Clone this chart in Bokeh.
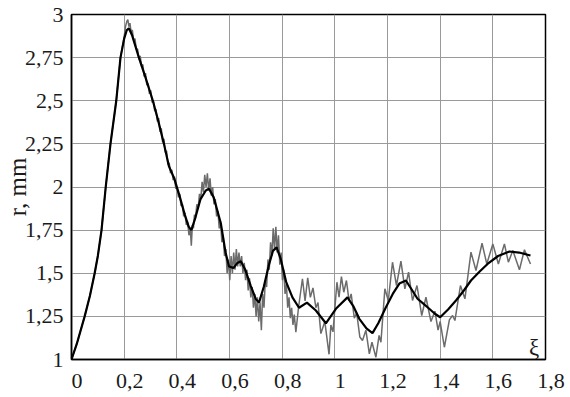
from bokeh.plotting import figure
from bokeh.models import Range1d, FixedTicker, Label
from bokeh.embed import file_html
from bokeh.resources import INLINE

# ---- data ----
x_ticks = [0, 0.2, 0.4, 0.6, 0.8, 1.0, 1.2, 1.4, 1.6, 1.8]
x_tick_labels = ["0", "0,2", "0,4", "0,6", "0,8", "1", "1,2", "1,4", "1,6", "1,8"]
y_ticks = [1, 1.25, 1.5, 1.75, 2, 2.25, 2.5, 2.75, 3]
y_tick_labels = ["1", "1,25", "1,5", "1,75", "2", "2,25", "2,5", "2,75", "3"]

# smooth (black) curve
smooth_xi = [0, 0.02, 0.05, 0.07, 0.088, 0.1, 0.114, 0.13, 0.148, 0.17, 0.186, 0.2, 0.21,
             0.218, 0.23, 0.256, 0.28, 0.309, 0.33, 0.351, 0.37, 0.39, 0.41, 0.43, 0.445,
             0.455, 0.47, 0.49, 0.51, 0.522, 0.54, 0.567, 0.585, 0.598, 0.615, 0.63, 0.643,
             0.66, 0.68, 0.70, 0.712, 0.73, 0.75, 0.765, 0.779, 0.795, 0.815, 0.839, 0.864,
             0.894, 0.928, 0.966, 1.004, 1.048, 1.07, 1.093, 1.12, 1.143, 1.165, 1.194,
             1.22, 1.245, 1.27, 1.29, 1.314, 1.335, 1.352, 1.38, 1.40, 1.43, 1.46, 1.49,
             1.517, 1.55, 1.58, 1.62, 1.663, 1.70, 1.743]
smooth_r = [1.0, 1.09, 1.25, 1.37, 1.5, 1.6, 1.75, 2.0, 2.25, 2.5, 2.75, 2.86, 2.91,
            2.92, 2.88, 2.75, 2.64, 2.5, 2.38, 2.25, 2.12, 2.05, 1.95, 1.84, 1.77,
            1.75, 1.82, 1.93, 1.98, 1.99, 1.94, 1.79, 1.62, 1.54, 1.53, 1.56, 1.57,
            1.52, 1.43, 1.35, 1.33, 1.42, 1.55, 1.63, 1.65, 1.58, 1.45, 1.36, 1.30,
            1.33, 1.284, 1.21, 1.294, 1.36, 1.31, 1.236, 1.18, 1.153, 1.21, 1.303,
            1.38, 1.44, 1.458, 1.41, 1.352, 1.325, 1.303, 1.265, 1.245, 1.29, 1.342, 1.40,
            1.458, 1.51, 1.554, 1.60, 1.626, 1.62, 1.603]

# measured (grey) curve
raw_xi = [0, 0.02, 0.05, 0.07, 0.088, 0.1, 0.114, 0.13, 0.148, 0.17, 0.186,
          0.200, 0.205, 0.210, 0.214, 0.218, 0.222, 0.226, 0.231, 0.236, 0.241, 0.246,
          0.251, 0.256, 0.261, 0.266, 0.271, 0.276, 0.281, 0.286, 0.291, 0.296, 0.301,
          0.306, 0.311, 0.316, 0.321, 0.326, 0.331, 0.336, 0.341, 0.346, 0.351, 0.356,
          0.361, 0.366, 0.371, 0.376, 0.381, 0.386, 0.391, 0.396, 0.401, 0.406, 0.411,
          0.416, 0.421, 0.426, 0.431, 0.436, 0.441, 0.446, 0.451, 0.455, 0.459, 0.463,
          0.467, 0.471, 0.476, 0.481, 0.486, 0.491, 0.496, 0.501, 0.506, 0.511, 0.516,
          0.521, 0.526, 0.531, 0.536, 0.541, 0.546, 0.551, 0.556, 0.561, 0.566, 0.571,
          0.576, 0.581, 0.586, 0.591, 0.596, 0.601, 0.606, 0.611, 0.616, 0.621, 0.626,
          0.631, 0.636, 0.641, 0.646, 0.651, 0.656, 0.661, 0.666, 0.671, 0.676, 0.681,
          0.686, 0.691, 0.696, 0.701, 0.706, 0.711, 0.716, 0.721, 0.726, 0.731, 0.736,
          0.741, 0.746, 0.751, 0.756, 0.761, 0.766, 0.771, 0.776, 0.781, 0.786, 0.791,
          0.796, 0.801, 0.806, 0.811, 0.816, 0.821, 0.826, 0.831, 0.836, 0.841, 0.846,
          0.852, 0.862, 0.877, 0.887, 0.897, 0.907, 0.917, 0.928, 0.936, 0.947, 0.962,
          0.978, 0.985, 0.993, 1.008, 1.016, 1.025, 1.034, 1.044, 1.054, 1.062, 1.074,
          1.083, 1.095, 1.105, 1.118, 1.131, 1.141, 1.156, 1.168, 1.175, 1.190, 1.203,
          1.219, 1.234, 1.251, 1.266, 1.280, 1.295, 1.312, 1.330, 1.346, 1.365, 1.380,
          1.392, 1.400, 1.416, 1.435, 1.447, 1.456, 1.477, 1.494, 1.517, 1.536, 1.559,
          1.577, 1.600, 1.621, 1.644, 1.659, 1.676, 1.701, 1.720, 1.743]
raw_r = [1.0, 1.09, 1.25, 1.37, 1.5, 1.6, 1.75, 2.0, 2.25, 2.5, 2.75,
         2.87, 2.93, 2.96, 2.97, 2.93, 2.95, 2.90, 2.91, 2.85, 2.86, 2.80,
         2.80, 2.74, 2.76, 2.70, 2.71, 2.64, 2.66, 2.59, 2.60, 2.54, 2.56,
         2.49, 2.50, 2.44, 2.45, 2.38, 2.40, 2.32, 2.34, 2.26, 2.28, 2.20,
         2.21, 2.13, 2.14, 2.08, 2.10, 2.04, 2.06, 1.99, 2.00, 1.94, 1.96,
         1.89, 1.90, 1.83, 1.85, 1.78, 1.80, 1.72, 1.76, 1.66, 1.78, 1.76,
         1.84, 1.82, 1.90, 1.88, 1.96, 1.93, 2.03, 1.97, 2.07, 2.00, 2.08,
         1.98, 2.05, 1.95, 2.00, 1.90, 1.93, 1.83, 1.86, 1.76, 1.80, 1.68,
         1.72, 1.60, 1.64, 1.50, 1.58, 1.46, 1.60, 1.50, 1.62, 1.52, 1.64,
         1.54, 1.62, 1.54, 1.60, 1.50, 1.56, 1.46, 1.52, 1.40, 1.47, 1.36,
         1.42, 1.30, 1.38, 1.25, 1.36, 1.22, 1.33, 1.17, 1.38, 1.30, 1.46,
         1.42, 1.58, 1.52, 1.68, 1.60, 1.76, 1.64, 1.77, 1.62, 1.72, 1.55,
         1.62, 1.46, 1.52, 1.38, 1.44, 1.30, 1.36, 1.24, 1.30, 1.20, 1.26,
         1.158, 1.30, 1.468, 1.34, 1.474, 1.36, 1.415, 1.30, 1.33, 1.15, 1.22,
         1.03, 1.20, 1.16, 1.448, 1.361, 1.481, 1.39, 1.458, 1.34, 1.38, 1.24,
         1.27, 1.13, 1.11, 1.17, 1.033, 1.10, 1.013, 1.14, 1.10, 1.41, 1.342,
         1.564, 1.429, 1.57, 1.41, 1.506, 1.342, 1.429, 1.255, 1.361, 1.22, 1.28,
         1.17, 1.22, 1.071, 1.23, 1.255, 1.226, 1.429, 1.352, 1.622, 1.516, 1.674,
         1.554, 1.670, 1.554, 1.670, 1.564, 1.632, 1.52, 1.636, 1.554]
y_title = "r, mm"
x_title = "ξ"

TEXT_COLOR = "#1a1a1a"
FONT = "Liberation Serif"

p = figure(width=570, height=397, output_backend="svg", toolbar_location=None,
           x_range=Range1d(0, 1.8), y_range=Range1d(1, 3),
           min_border_left=71, min_border_right=25, min_border_top=14, min_border_bottom=38)
p.background_fill_color = "white"
p.border_fill_color = "white"
p.outline_line_color = "black"
p.outline_line_width = 1.5

p.xaxis.ticker = FixedTicker(ticks=x_ticks)
p.yaxis.ticker = FixedTicker(ticks=y_ticks)
# x labels sit slightly right of their grid lines in the original (en-space lead-in)
p.xaxis.major_label_overrides = {t: "\u2002" + s for t, s in zip(x_ticks, x_tick_labels)}
p.yaxis.major_label_overrides = dict(zip(y_ticks, y_tick_labels))
for ax in (p.xaxis, p.yaxis):
    ax.major_tick_out = 0
    ax.major_tick_in = 0
    ax.minor_tick_out = 0
    ax.minor_tick_in = 0
    ax.axis_line_color = "black"
    ax.axis_line_width = 1.5
    ax.major_label_text_font = FONT
    ax.major_label_text_font_size = "22px"
    ax.major_label_text_color = TEXT_COLOR
p.xaxis.major_label_standoff = 8
p.yaxis.major_label_standoff = 8

# y-axis title
p.yaxis.axis_label = y_title
p.yaxis.axis_label_text_font = FONT
p.yaxis.axis_label_text_font_size = "25px"
p.yaxis.axis_label_text_font_style = "normal"
p.yaxis.axis_label_text_color = TEXT_COLOR
p.yaxis.axis_label_standoff = -9

p.xgrid.grid_line_color = "#9a9a9a"
p.ygrid.grid_line_color = "#9a9a9a"
p.xgrid.grid_line_width = 1
p.ygrid.grid_line_width = 1

p.line(raw_xi, raw_r, line_color="#6b6b6b", line_width=1.5)
p.line(smooth_xi, smooth_r, line_color="black", line_width=2.2)

# x-axis title inside the plot area
p.add_layout(Label(x=1.757, y=1.07, text=x_title, text_font=FONT,
                   text_font_size="23px", text_align="center", text_baseline="middle",
                   text_color=TEXT_COLOR))

open("out.html", "w").write(file_html(p, INLINE))
